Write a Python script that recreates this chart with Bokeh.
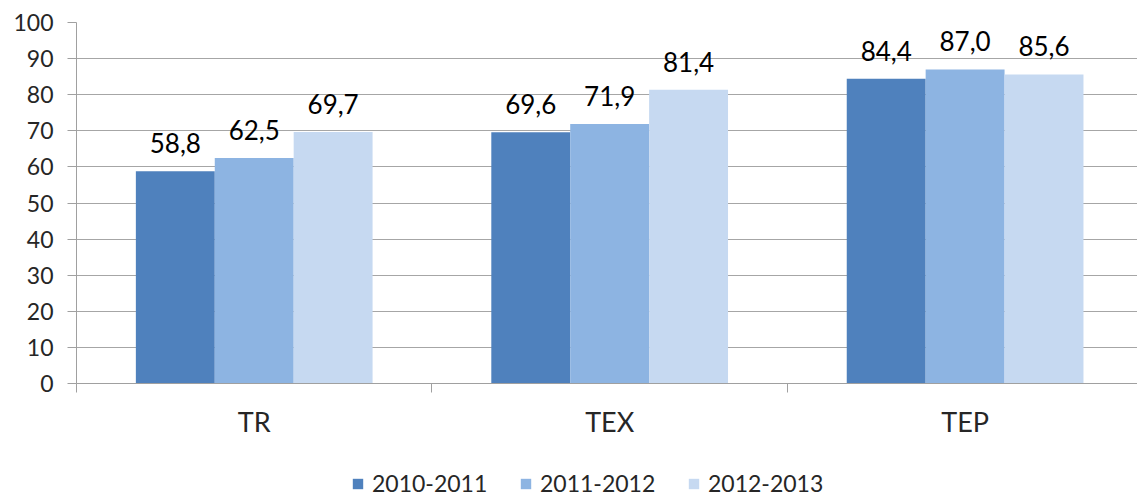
from bokeh.plotting import figure
from bokeh.layouts import column
from bokeh.models import (ColumnDataSource, Range1d, FixedTicker, LinearAxis,
                          Legend, LegendItem)
from bokeh.embed import file_html
from bokeh.resources import INLINE
from bokeh.core.properties import value

categories = ["TR", "TEX", "TEP"]
series_names = ["2010-2011", "2011-2012", "2012-2013"]
v2010 = [58.8, 69.6, 84.4]
v2011 = [62.5, 71.9, 87.0]
v2012 = [69.7, 81.4, 85.6]
colors = ["#4F81BD", "#8DB4E2", "#C6D9F1"]
y_ticks = list(range(0, 101, 10))

FONT = "Lato"
TXT = "#262626"

p = figure(width=1137, height=460, output_backend="svg", toolbar_location=None,
           x_range=Range1d(0, 2.985), y_range=Range1d(0, 100),
           x_axis_location=None, y_axis_location=None,
           min_border_left=76, min_border_top=22, min_border_right=0,
           min_border_bottom=77)
p.outline_line_color = None
p.background_fill_color = "white"
p.border_fill_color = "white"

# y axis
yax = LinearAxis(ticker=FixedTicker(ticks=y_ticks))
yax.axis_line_color = "#A0A0A0"
yax.major_tick_line_color = "#A0A0A0"
yax.major_tick_out = 9
yax.major_tick_in = 0
yax.minor_tick_line_color = None
yax.major_label_text_font = FONT
yax.major_label_text_font_size = "23px"
yax.major_label_text_color = TXT
yax.major_label_standoff = 14
p.add_layout(yax, "left")

# x axis
xax = LinearAxis(ticker=FixedTicker(ticks=[0.5, 1.5, 2.5], minor_ticks=[0, 1, 2, 3]))
xax.major_label_overrides = {0.5: categories[0], 1.5: categories[1], 2.5: categories[2]}
xax.axis_line_color = "#A0A0A0"
xax.major_tick_line_color = None
xax.major_tick_out = 0
xax.major_tick_in = 0
xax.minor_tick_line_color = "#A0A0A0"
xax.minor_tick_out = 9
xax.minor_tick_in = 0
xax.major_label_text_font = FONT
xax.major_label_text_font_size = "27px"
xax.major_label_text_color = TXT
xax.major_label_standoff = 12
p.add_layout(xax, "below")

p.xgrid.visible = False
p.ygrid.ticker = FixedTicker(ticks=y_ticks)
p.ygrid.grid_line_color = "#A6A6A6"
p.ygrid.grid_line_width = 1

bar_w = 0.222
offsets = [-bar_w, 0.0, bar_w]
for vals, off, col in zip([v2010, v2011, v2012], offsets, colors):
    xs = [i + 0.5 + off for i in range(len(categories))]
    src = ColumnDataSource(dict(x=xs, top=vals,
                                lbl=[f"{v:.1f}".replace(".", ",") for v in vals]))
    p.vbar(x="x", top="top", width=bar_w, source=src, fill_color=col,
           line_color=None)
    p.text(x="x", y="top", text="lbl", source=src, text_align="center",
           text_baseline="alphabetic", y_offset=-28, text_font=value(FONT),
           text_font_size="26px", text_color="#000000")

# legend strip (swatch renderers sit outside the visible range)
lg = figure(width=1137, height=37, output_backend="svg", toolbar_location=None,
            x_range=Range1d(0, 1), y_range=Range1d(0, 1),
            x_axis_location=None, y_axis_location=None,
            min_border=0)
lg.outline_line_color = None
lg.xgrid.visible = False
lg.ygrid.visible = False
items = []
for n, col in zip(series_names, colors):
    r = lg.vbar(x=[5], top=[0], width=0.1, fill_color=col, line_color=None)
    items.append(LegendItem(label=n, renderers=[r]))

legend = Legend(items=items, orientation="horizontal", location=(275, 0))
legend.glyph_width = 13
legend.glyph_height = 13
legend.label_standoff = 8
legend.label_width = 147
legend.spacing = 0
legend.padding = 0
legend.margin = 0
legend.border_line_color = None
legend.background_fill_alpha = 0
legend.label_text_font = FONT
legend.label_text_font_size = "23px"
legend.label_text_color = TXT
lg.add_layout(legend, "center")

layout = column(p, lg, spacing=0)
open("out.html", "w").write(file_html(layout, INLINE))
